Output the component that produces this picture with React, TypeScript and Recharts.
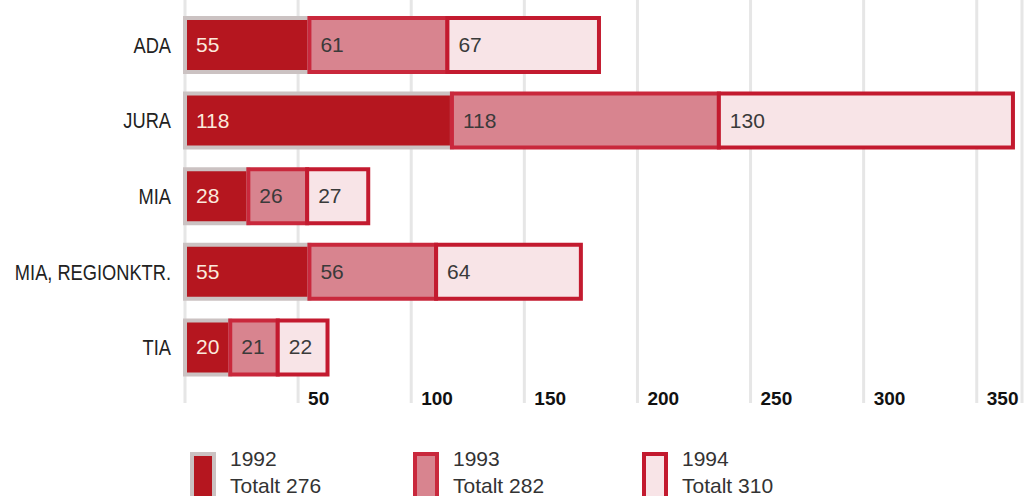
import React from "react";
import { BarChart, Bar, XAxis, YAxis, CartesianGrid, Legend, LabelList } from "recharts";

const categories = ["ADA", "JURA", "MIA", "MIA, REGIONKTR.", "TIA"];
const values1992 = [55, 118, 28, 55, 20];
const values1993 = [61, 118, 26, 56, 21];
const values1994 = [67, 130, 27, 64, 22];
const years = ["1992", "1993", "1994"];
const xTicks = [50, 100, 150, 200, 250, 300, 350];

const FILLS = ["#b5161f", "#d8848f", "#f8e4e7"];
const STROKES = ["#cbc2c2", "#c9283c", "#c31a2f"];
const SANS = "'Liberation Sans', Arial, sans-serif";

const data = categories.map((name, i) => ({
  name,
  y1992: values1992[i],
  y1993: values1993[i],
  y1994: values1994[i],
}));

const totals = [values1992, values1993, values1994].map((v) => v.reduce((a, b) => a + b, 0));

// condensed look for the category names (no narrow font available)
const CategoryTick = ({ x, y, payload }) => (
  <text
    transform={`translate(${x},${y}) scale(0.83,1)`}
    x={0}
    y={0}
    dy={8}
    textAnchor="end"
    fontFamily={SANS}
    fontSize={22}
    fill="#222"
  >
    {payload.value}
  </text>
);

const ValueTick = ({ x, y, payload }) => (
  <text x={x + 10} y={y + 20} textAnchor="start" fontFamily={SANS} fontWeight="bold" fontSize={19} fill="#111">
    {payload.value}
  </text>
);

const valueLabel = (color) => (props) => {
  const { x, y, height, value } = props;
  return (
    <text x={x + 11} y={y + height / 2} dy={7} fontFamily={SANS} fontSize={21} fill={color}>
      {value}
    </text>
  );
};

const renderLegend = () => {
  const lefts = [190, 413, 642];
  return (
    <div style={{ position: "relative", height: 50, width: 1036 }}>
      {years.map((yr, i) => (
        <div key={yr}>
          <div
            style={{
              position: "absolute",
              left: lefts[i],
              top: 6,
              width: 26,
              height: 48,
              boxSizing: "border-box",
              border: `4px solid ${STROKES[i]}`,
              background: FILLS[i],
            }}
          />
          <div
            style={{
              position: "absolute",
              left: lefts[i] + 40,
              top: -1,
              fontFamily: SANS,
              fontSize: 21,
              lineHeight: "27px",
              color: "#333",
              whiteSpace: "nowrap",
            }}
          >
            {yr}
            <br />
            Totalt {totals[i]}
          </div>
        </div>
      ))}
    </div>
  );
};

export default function App() {
  return (
    <div style={{ position: "absolute", left: 0, top: 0, background: "#fff" }}>
      <BarChart
        width={1036}
        height={496}
        data={data}
        layout="vertical"
        margin={{ top: 7, right: 14, bottom: 0, left: 0 }}
        barSize={54}
      >
        <CartesianGrid horizontal={false} stroke="#e6e6e6" strokeWidth={3} y={0} height={403} />
        <XAxis
          type="number"
          domain={[0, 370]}
          ticks={xTicks}
          axisLine={false}
          tickLine={false}
          tickSize={0}
          tickMargin={0}
          height={61}
          tick={ValueTick}
          interval={0}
        />
        <YAxis
          type="category"
          dataKey="name"
          width={185}
          axisLine={false}
          tickLine={false}
          tickSize={0}
          tickMargin={14}
          tick={CategoryTick}
          interval={0}
        />
        <Legend verticalAlign="bottom" content={renderLegend} wrapperStyle={{ left: 0, bottom: 0 }} />
        <Bar dataKey="y1992" name="1992" stackId="a" fill={FILLS[0]} stroke={STROKES[0]} strokeWidth={4} isAnimationActive={false}>
          <LabelList dataKey="y1992" content={valueLabel("#fbe9dc")} />
        </Bar>
        <Bar dataKey="y1993" name="1993" stackId="a" fill={FILLS[1]} stroke={STROKES[1]} strokeWidth={4} isAnimationActive={false}>
          <LabelList dataKey="y1993" content={valueLabel("#3a3a3a")} />
        </Bar>
        <Bar dataKey="y1994" name="1994" stackId="a" fill={FILLS[2]} stroke={STROKES[2]} strokeWidth={4} isAnimationActive={false}>
          <LabelList dataKey="y1994" content={valueLabel("#3a3a3a")} />
        </Bar>
      </BarChart>
    </div>
  );
}
